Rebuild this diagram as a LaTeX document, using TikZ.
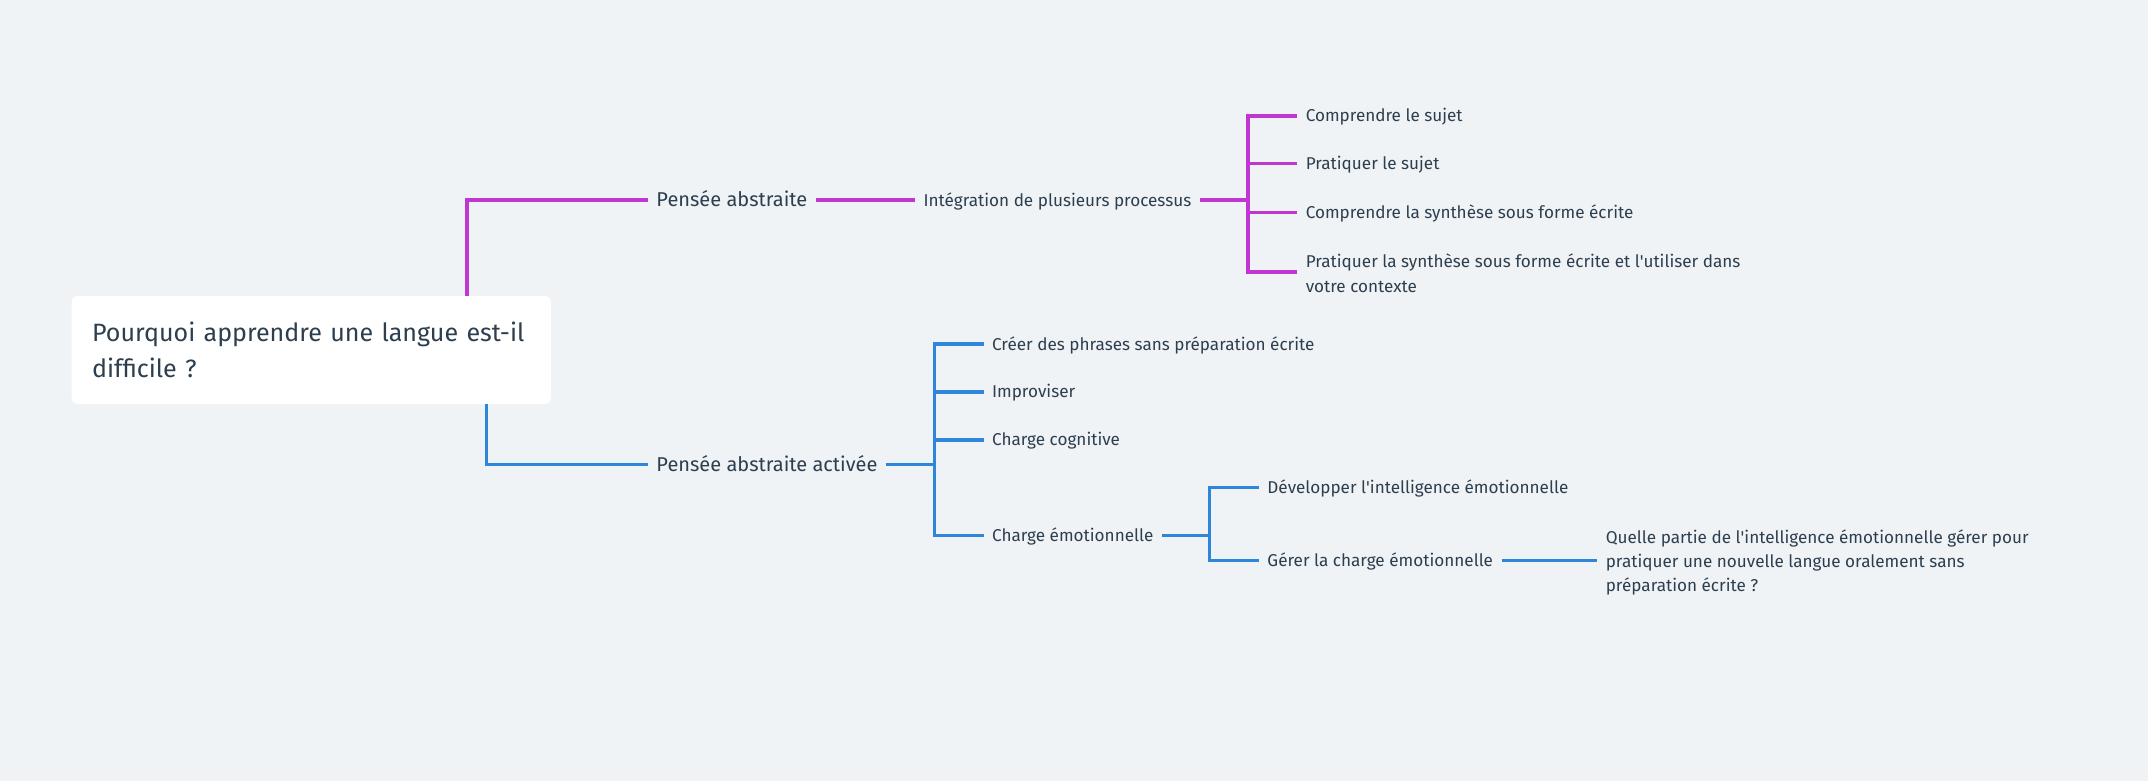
\documentclass[tikz,border=0pt]{standalone}
\usepackage{fontspec}
\setmainfont{Fira Sans}
\definecolor{bgc}{HTML}{EFF3F6}
\definecolor{magc}{HTML}{C136D1}
\definecolor{bluc}{HTML}{2E86DB}
\definecolor{txtc}{HTML}{2D3E4E}
\begin{document}
\begin{tikzpicture}[x=1pt,y=-1pt,
  lbl/.style={anchor=west, inner xsep=6pt, inner ysep=0pt, text=txtc, font=\fontsize{12.5}{17.8}\selectfont, align=left},
  one/.style={lbl, text height=10pt, text depth=1pt},
  lvlone/.style={one, font=\fontsize{14.6}{17}\selectfont, text height=11.5pt, text depth=1.5pt},
  magl/.style={draw=magc, line width=2.6pt, line join=miter},
  blul/.style={draw=bluc, line width=2.6pt, line join=miter},
  rootbox/.style={anchor=west, fill=white, rounded corners=4pt, minimum width=350pt, minimum height=79pt, text width=320pt, inner xsep=15pt, align=left, text=txtc, font=\fontsize{18.3}{26}\selectfont}
]
\fill[bgc] (0,0) rectangle (1568,570);
\useasboundingbox (0,0) rectangle (1568,570);

\node[rootbox] (root) at (52,255.5) {Pourquoi apprendre une langue est-il\\difficile ?};

% magenta branch
\node[lvlone] (pa) at (473,146) {Pensée abstraite};
\node[one] (int) at (668,146) {Intégration de plusieurs processus};
\node[one] (c1) at (947,84.5) {Comprendre le sujet};
\node[one] (c2) at (947,119.5) {Pratiquer le sujet};
\node[one] (c3) at (947,155) {Comprendre la synthèse sous forme écrite};
\node[lbl] (c4) at (947,199.5) {Pratiquer la synthèse sous forme écrite et l\textquotesingle utiliser dans\\votre contexte};

\coordinate (rm) at (341,216);
\coordinate (j1) at (911,146);
\draw[magl] (rm) |- (pa.west);
\draw[magl] (pa.east) -- (int.west);
\draw[magl] (int.east) -- (j1);
\foreach \c in {c1,c2,c3} \draw[magl] (j1) |- (\c.west);
\draw[magl] (j1) |- ([yshift=1pt]c4.west);

% blue branch
\node[lvlone] (paa) at (473,339) {Pensée abstraite activée};
\node[one] (b1) at (718,251) {Créer des phrases sans préparation écrite};
\node[one] (b2) at (718,286) {Improviser};
\node[one] (b3) at (718,321) {Charge cognitive};
\node[one] (b4) at (718,391) {Charge émotionnelle};
\node[one] (d1) at (919,356) {Développer l\textquotesingle intelligence émotionnelle};
\node[one] (d2) at (919,409) {Gérer la charge émotionnelle};
\node[lbl] (e1) at (1166,410.5) {Quelle partie de l\textquotesingle intelligence émotionnelle gérer pour\\pratiquer une nouvelle langue oralement sans\\préparation écrite ?};

\coordinate (rb) at (355,295);
\coordinate (j2) at (682,339);
\coordinate (j3) at (883,391);
\draw[blul] (rb) |- (paa.west);
\draw[blul] (paa.east) -- (j2);
\foreach \c in {b1,b2,b3,b4} \draw[blul] (j2) |- (\c.west);
\draw[blul] (b4.east) -- (j3);
\foreach \c in {d1,d2} \draw[blul] (j3) |- (\c.west);
\draw[blul] (d2.east) -- (d2.east -| e1.west);
\end{tikzpicture}
\end{document}
